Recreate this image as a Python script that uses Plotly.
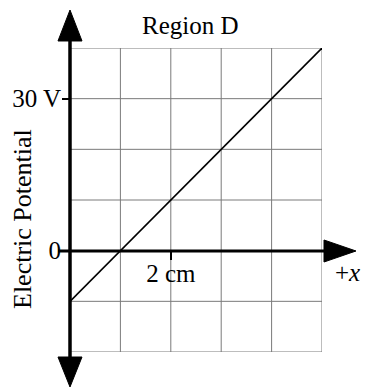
import plotly.graph_objects as go

# ---- data ----
x_cm = [0, 1, 2, 3, 4, 5]
potential_v = [-10, 0, 10, 20, 30, 40]
y_tick_vals = [0, 30]
y_tick_text = ["0", "30 V"]
x_tick_vals = [2]
x_tick_text = ["2 cm"]
title_text = "Region D"
y_title_text = "Electric Potential"
x_axis_text = "+<i>x</i>"

W, H = 366, 388
L, R, T, B = 70, 44, 48, 36
PW, PH = W - L - R, H - T - B


def px(x):
    return (x - L) / PW


def py(y):
    return (H - B - y) / PH


FONT = "Liberation Serif"
GRID = "#7a7a7a"

fig = go.Figure()
fig.add_trace(go.Scatter(x=x_cm, y=potential_v, mode="lines",
                         line=dict(color="black", width=1.6),
                         hoverinfo="skip", showlegend=False))

fig.update_layout(
    width=W, height=H,
    margin=dict(l=L, r=R, t=T, b=B, pad=0),
    paper_bgcolor="white", plot_bgcolor="white",
    font=dict(family=FONT, color="black", size=25),
    xaxis=dict(range=[0, 5], showgrid=False, zeroline=False, showline=False,
               automargin=False,
               anchor="free", position=20 / 60,
               tickmode="array", tickvals=x_tick_vals, ticktext=x_tick_text,
               ticks="outside", ticklen=8, tickwidth=2, tickcolor="black",
               ticklabelstandoff=-8,
               tickfont=dict(family=FONT, size=25, color="black")),
    yaxis=dict(range=[-20, 40], showgrid=False, zeroline=False, showline=False,
               automargin=False,
               tickmode="array", tickvals=y_tick_vals, ticktext=y_tick_text,
               ticks="outside", ticklen=7, tickwidth=2, tickcolor="black",
               ticklabelstandoff=-4,
               tickfont=dict(family=FONT, size=25, color="black")),
)

shapes = []
for gy in range(-20, 41, 10):
    shapes.append(dict(type="line", xref="paper", yref="y", x0=0, x1=1, y0=gy, y1=gy,
                       line=dict(color=GRID, width=1), layer="below"))
for gx in range(0, 6):
    shapes.append(dict(type="line", xref="x", yref="paper", x0=gx, x1=gx, y0=0, y1=1,
                       line=dict(color=GRID, width=1), layer="below"))

# axes with arrows
shapes.append(dict(type="line", xref="paper", yref="paper",
                   x0=px(70), x1=px(70), y0=py(38), y1=py(360),
                   line=dict(color="black", width=3.5)))
shapes.append(dict(type="line", xref="paper", yref="paper",
                   x0=px(58), x1=px(327), y0=py(251), y1=py(251),
                   line=dict(color="black", width=3)))


def tri(pts):
    p = "M " + " L ".join(f"{px(a):.5f},{py(b):.5f}" for a, b in pts) + " Z"
    return dict(type="path", xref="paper", yref="paper", path=p,
                fillcolor="black", line=dict(color="black", width=1))


shapes.append(tri([(58, 41), (82, 41), (70, 10)]))
shapes.append(tri([(58, 357), (82, 357), (70, 387)]))
shapes.append(tri([(324, 240), (324, 262), (356, 251)]))

fig.update_layout(shapes=shapes)

fig.add_annotation(text=title_text, xref="paper", yref="paper",
                   x=px(190), y=py(26), xanchor="center", yanchor="middle",
                   showarrow=False, font=dict(family=FONT, size=25, color="black"))
fig.add_annotation(text=y_title_text, xref="paper", yref="paper",
                   x=px(22), y=py(219), xanchor="center", yanchor="middle",
                   textangle=-90, showarrow=False,
                   font=dict(family=FONT, size=26, color="black"))
fig.add_annotation(text=x_axis_text, xref="paper", yref="paper",
                   x=px(347), y=py(272), xanchor="center", yanchor="middle",
                   showarrow=False, font=dict(family=FONT, size=25, color="black"))

fig.write_html("out.html", config={"displayModeBar": False},
               post_script="document.body.style.margin='0';")
